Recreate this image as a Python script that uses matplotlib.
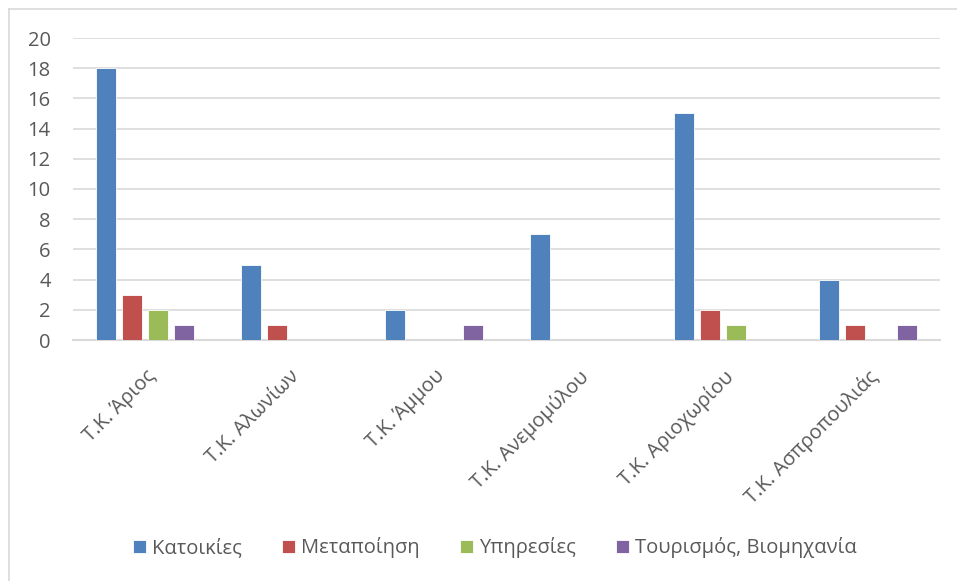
import numpy as np
import matplotlib.pyplot as plt
from matplotlib.lines import Line2D

# data
categories = ['Τ.Κ. Άριος', 'Τ.Κ. Αλωνίων', 'Τ.Κ. Άμμου', 'Τ.Κ. Ανεμομύλου',
              'Τ.Κ. Αριοχωρίου', 'Τ.Κ. Ασπροπουλιάς']
series_names = ['Κατοικίες', 'Μεταποίηση', 'Υπηρεσίες', 'Τουρισμός, Βιομηχανία']
katoikies = [18, 5, 2, 7, 15, 4]
metapoiisi = [3, 1, 0, 0, 2, 1]
ypiresies = [2, 0, 0, 0, 1, 0]
tourismos = [1, 0, 1, 0, 0, 1]
colors = ['#4F81BD', '#C0504D', '#9BBB59', '#8064A2']

plt.rcParams['font.family'] = ['Open Sans', 'DejaVu Sans']
text_color = '#595959'
fs = 14.5

fig = plt.figure(figsize=(9.57, 5.81), dpi=100)
ax = fig.add_axes([73 / 957, 1 - 340 / 581, 867 / 957, 302 / 581])

x = np.arange(len(categories))
step = 0.18
width = 0.138
for i, (vals, name) in enumerate(zip([katoikies, metapoiisi, ypiresies, tourismos], series_names)):
    ax.bar(x + (i - 1.5) * step, vals, width, color=colors[i], label=name,
           edgecolor='white', linewidth=0.6, zorder=3)

ax.set_xlim(-0.5, len(categories) - 0.5)
ax.set_ylim(0, 20)
ax.set_yticks(range(0, 21, 2))
ax.yaxis.grid(True, color='#D9D9D9', linewidth=1.2, zorder=0)
ax.tick_params(axis='y', length=0, pad=16, labelsize=fs, labelcolor=text_color)
ax.tick_params(axis='x', length=0, pad=19)
for s in ['top', 'right', 'left']:
    ax.spines[s].set_visible(False)
ax.spines['bottom'].set_color('#D9D9D9')
ax.spines['bottom'].set_linewidth(1.5)

ax.set_xticks(x)
ax.set_xticklabels(categories, rotation=45, ha='right', rotation_mode='anchor',
                   fontsize=fs, color=text_color)

ax.legend(loc='center', bbox_to_anchor=(495 / 957, 1 - 548 / 581),
          bbox_transform=fig.transFigure, ncol=4, frameon=False,
          fontsize=fs, labelcolor=text_color, handlelength=0.65, handleheight=0.65,
          handletextpad=0.3, columnspacing=2.0)

# chart border (only left and top edges visible in the crop)
fig.add_artist(Line2D([9 / 957, 9 / 957], [0, 1 - 9 / 581], color='#D9D9D9',
                      linewidth=1.2, transform=fig.transFigure))
fig.add_artist(Line2D([9 / 957, 1], [1 - 9 / 581, 1 - 9 / 581], color='#D9D9D9',
                      linewidth=1.2, transform=fig.transFigure))

fig.savefig('out.png', dpi=100)
